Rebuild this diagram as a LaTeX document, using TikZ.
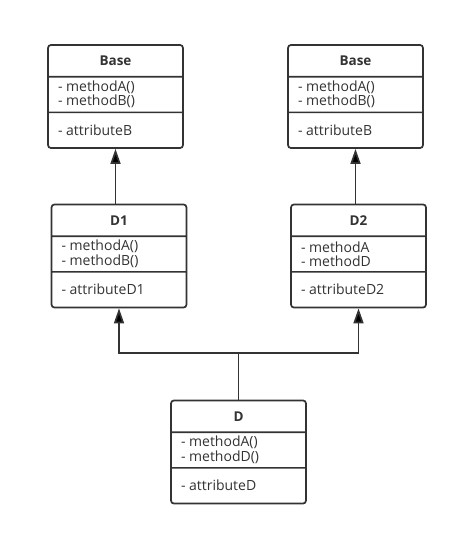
\documentclass[tikz,border=0pt]{standalone}
\usepackage{fontspec}
\setmainfont{Open Sans}
\usetikzlibrary{shapes.multipart,arrows.meta}

\definecolor{umlgray}{HTML}{333333}

\newcommand{\classname}[1]{\parbox[c][30pt][c]{115pt}{\centering\fontsize{13.5}{15}\selectfont\bfseries #1}}
\newcommand{\classpart}[1]{\parbox[c][34pt][c]{115pt}{\fontsize{14}{14.5}\selectfont #1}}

\tikzset{
  umlclass/.style={rectangle split, rectangle split parts=3, draw=umlgray,
    line width=1.7pt, rounded corners=3pt, inner xsep=10pt, inner ysep=0pt,
    text=umlgray, fill=white},
  inherit/.style={-{Triangle[length=15pt,width=10pt]}, draw=umlgray, line width=1.7pt}
}

\begin{document}
\begin{tikzpicture}[x=1pt,y=-1pt]
   \useasboundingbox (0,0) rectangle (457,533);

   \node[umlclass] (base1) at (115.5,96.5) {\classname{Base}
      \nodepart{two}\classpart{- methodA()\\- methodB()}
      \nodepart{three}\classpart{- attributeB}};
   \node[umlclass] (base2) at (355.5,96.5) {\classname{Base}
      \nodepart{two}\classpart{- methodA()\\- methodB()}
      \nodepart{three}\classpart{- attributeB}};

   \node[umlclass] (d1) at (119,256) {\classname{D1}
      \nodepart{two}\classpart{- methodA()\\- methodB()}
      \nodepart{three}\classpart{- attributeD1}};
   \node[umlclass] (d2) at (358.5,256) {\classname{D2}
      \nodepart{two}\classpart{- methodA\\- methodD}
      \nodepart{three}\classpart{- attributeD2}};

   \node[umlclass] (d) at (238.5,452) {\classname{D}
      \nodepart{two}\classpart{- methodA()\\- methodD()}
      \nodepart{three}\classpart{- attributeD}};

   \coordinate (join) at (238.5,353);

   \draw[inherit] (base1.south |- d1.north) -- (base1.south);
   \draw[inherit] (base2.south |- d2.north) -- (base2.south);

   \draw[inherit] (d.north) -- (join) -| (d1.south);
   \draw[inherit] (join) -| (d2.south);
\end{tikzpicture}
\end{document}
